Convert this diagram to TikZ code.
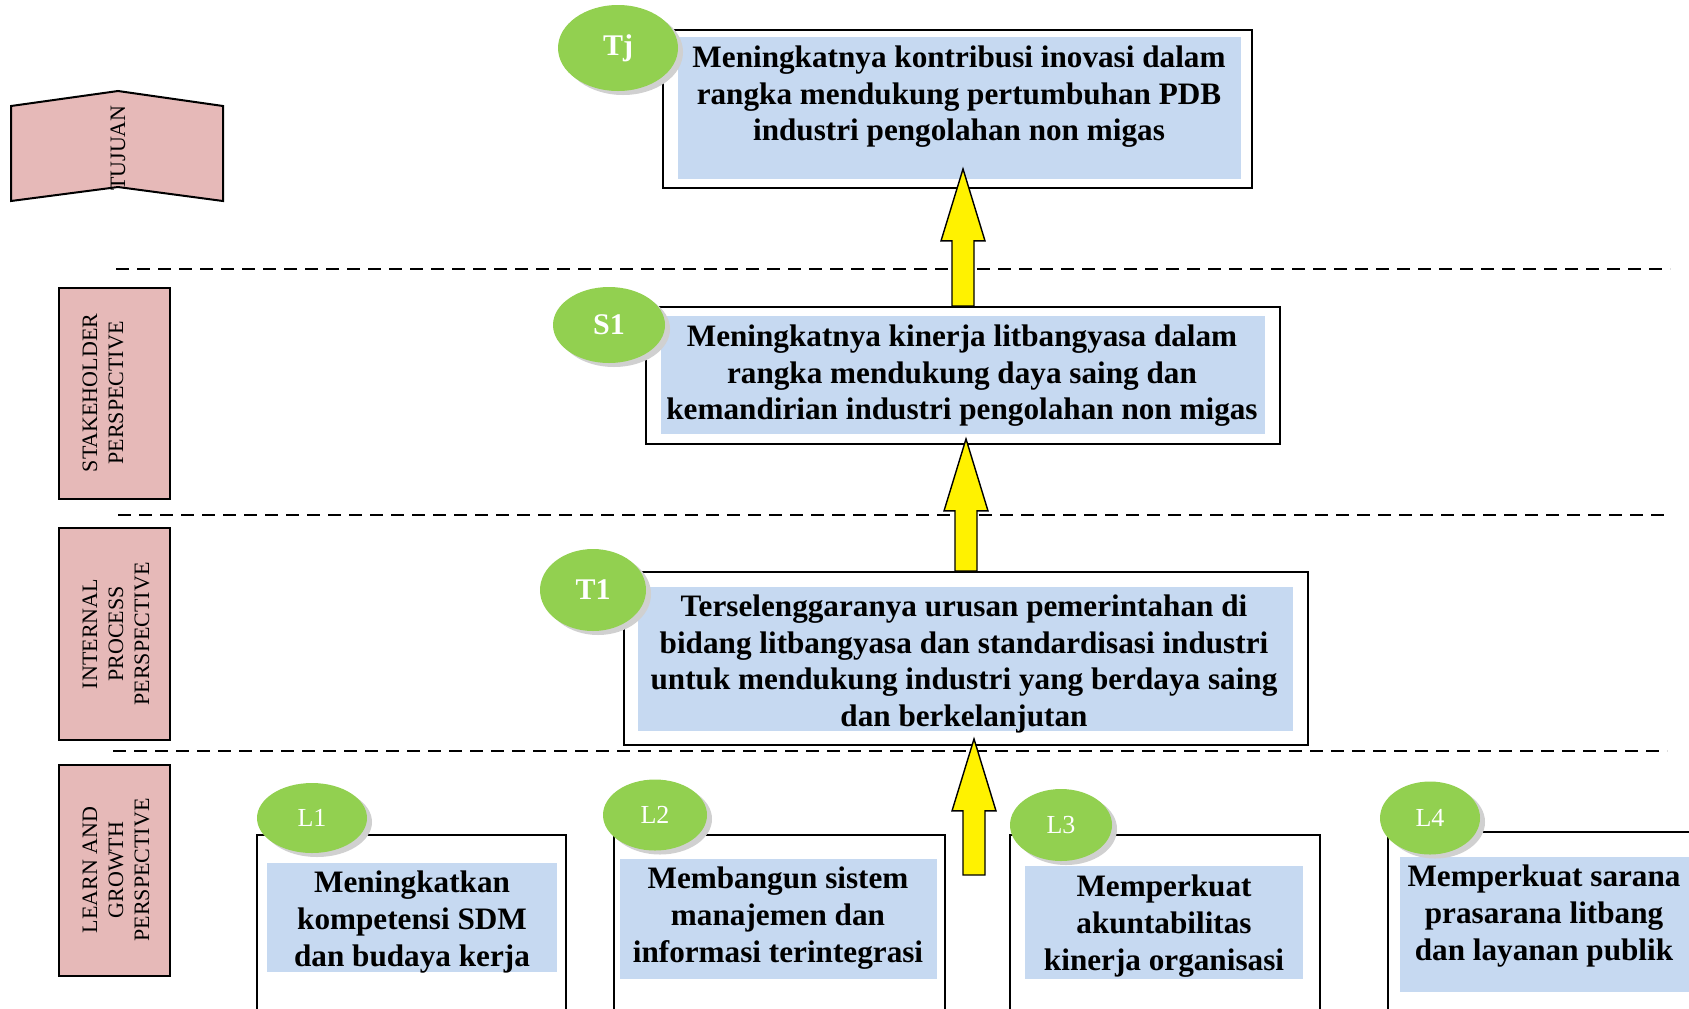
\documentclass[tikz,border=0pt]{standalone}
\usepackage{fontspec}
\setmainfont{Liberation Serif}
\usetikzlibrary{calc,fit,shadows,shapes.geometric}
\definecolor{pinkbg}{HTML}{E6B9B8}
\definecolor{bluebg}{HTML}{C6D9F1}
\definecolor{badgegreen}{HTML}{92D050}
\definecolor{shade}{HTML}{D0D0D0}
\newcommand{\blockarrow}[2]{%
  \draw[blockarr] let \p1=(#1), \p2=(#2) in
    (\x2-5.5pt,\y1) -- (\x2-5.5pt,\y2-36pt) -- (\x2-11pt,\y2-36pt) -- (\x2,\y2)
    -- (\x2+11pt,\y2-36pt) -- (\x2+5.5pt,\y2-36pt) -- (\x2+5.5pt,\y1) -- cycle;}
\tikzset{
  outbox/.style={draw=black,line width=0.9pt,fill=white,inner sep=0pt},
  fillbox/.style={draw=none,fill=bluebg,inner sep=0pt},
  txt/.style={font=\fontsize{15.6}{18.3}\selectfont\bfseries,align=center,inner sep=0pt,yshift=-2pt},
  persp/.style={draw=black,line width=1pt,fill=pinkbg,inner sep=0pt},
  plbl/.style={font=\fontsize{11}{13}\selectfont,align=center,rotate=90,inner sep=0pt},
  badge/.style={ellipse,fill=badgegreen,inner sep=0pt,text=white,
    drop shadow={shadow xshift=2.5pt,shadow yshift=-2pt,fill=shade,opacity=1},
    font=\fontsize{15}{15}\selectfont\bfseries},
  badgel/.style={badge,font=\fontsize{13}{13}\selectfont},
  sep/.style={line width=0.65pt,dash pattern=on 6.5pt off 4pt},
  blockarr/.style={draw=black,line width=0.7pt,fill=yellow,line join=miter},
}
\begin{document}
\begin{tikzpicture}[x=0.5pt,y=-0.5pt]
  \path[use as bounding box,clip] (0,0) rectangle (1689,1008);
  % perspectives on the left
  \draw[persp] (11,106) -- (118,91) -- (223,106) -- (223,201) -- (118,187) -- (11,201) -- cycle;
  \node[plbl] (tujlbl) at (118,148) {TUJUAN};
  \node[persp,fit={(59,288)(170,499)}] (stake) {};
  \node[plbl] (stakelbl) at (103,393) {STAKEHOLDER\\PERSPECTIVE};
  \node[persp,fit={(59,528)(170,740)}] (intern) {};
  \node[plbl] (internlbl) at (116,634) {INTERNAL\\PROCESS\\PERSPECTIVE};
  \node[persp,fit={(59,765)(170,976)}] (learn) {};
  \node[plbl] (learnlbl) at (116,870) {LEARN AND\\GROWTH\\PERSPECTIVE};
  \draw[sep] (116,269) -- (1670,269);
  \draw[sep] (118,515) -- (1670,515);
  \draw[sep] (113,751) -- (1667,751);
  % goal and targets
  \node[outbox,fit={(663,30)(1252,188)}] (tjbox) {};
  \node[fillbox,fit={(678,37)(1241,179)}] (tjfill) {};
  \node[txt] (tjtxt) at (959,93) {Meningkatnya kontribusi inovasi dalam\\rangka mendukung pertumbuhan PDB\\industri pengolahan non migas};
  \node[outbox,fit={(646,307)(1280,444)}] (sbox) {};
  \node[fillbox,fit={(661,316)(1265,434)}] (sfill) {};
  \node[txt] (stxt) at (962,372) {Meningkatnya kinerja litbangyasa dalam\\rangka mendukung daya saing dan\\kemandirian industri pengolahan non migas};
  \node[outbox,fit={(624,572)(1308,745)}] (tbox) {};
  \node[fillbox,fit={(638,587)(1293,731)}] (tfill) {};
  \node[txt] (ttxt) at (964,660) {Terselenggaranya urusan pemerintahan di\\bidang litbangyasa dan standardisasi industri\\untuk mendukung industri yang berdaya saing\\dan berkelanjutan};
  \node[outbox,fit={(257,835)(566,1030)}] (lbox1) {};
  \node[fillbox,fit={(267,863)(557,972)}] (lfill1) {};
  \node[txt] (ltxt1) at (412,918) {Meningkatkan\\kompetensi SDM\\dan budaya kerja};
  \node[outbox,fit={(614,835)(945,1030)}] (lbox2) {};
  \node[fillbox,fit={(620,859)(937,979)}] (lfill2) {};
  \node[txt] (ltxt2) at (778,914) {Membangun sistem\\manajemen dan\\informasi terintegrasi};
  \node[outbox,fit={(1010,835)(1320,1030)}] (lbox3) {};
  \node[fillbox,fit={(1025,866)(1303,979)}] (lfill3) {};
  \node[txt] (ltxt3) at (1164,922) {Memperkuat\\akuntabilitas\\kinerja organisasi};
  \node[outbox,fit={(1388,832)(1720,1030)}] (lbox4) {};
  \node[fillbox,fit={(1400,857)(1720,992)}] (lfill4) {};
  \node[txt] (ltxt4) at (1544,912) {Memperkuat sarana\\prasarana litbang\\dan layanan publik};
  % badges
  \node[badge,minimum width=60pt,minimum height=43pt] (tj) at (618,48) {Tj};
  \node[badge,minimum width=56pt,minimum height=38pt] (s1) at (609,325) {S1};
  \node[badge,minimum width=53pt,minimum height=41pt] (t1) at (593,590) {T1};
  \node[badgel,minimum width=55pt,minimum height=35pt] (l1) at (312,818) {L1};
  \node[badgel,minimum width=52pt,minimum height=35.5pt] (l2) at (655,815) {L2};
  \node[badgel,minimum width=51pt,minimum height=36pt] (l3) at (1061,825) {L3};
  \node[badgel,minimum width=50pt,minimum height=36.5pt] (l4) at (1430,818) {L4};
  % arrows
  \coordinate (lgbase) at (974,875);
  \blockarrow{sbox.north}{$(tjbox.south -| sbox.north)+(0,-20)$}
  \blockarrow{tbox.north}{$(sbox.south -| tbox.north)+(0,-6)$}
  \blockarrow{lgbase}{$(tbox.south -| lgbase)+(0,-7)$}
\end{tikzpicture}
\end{document}
